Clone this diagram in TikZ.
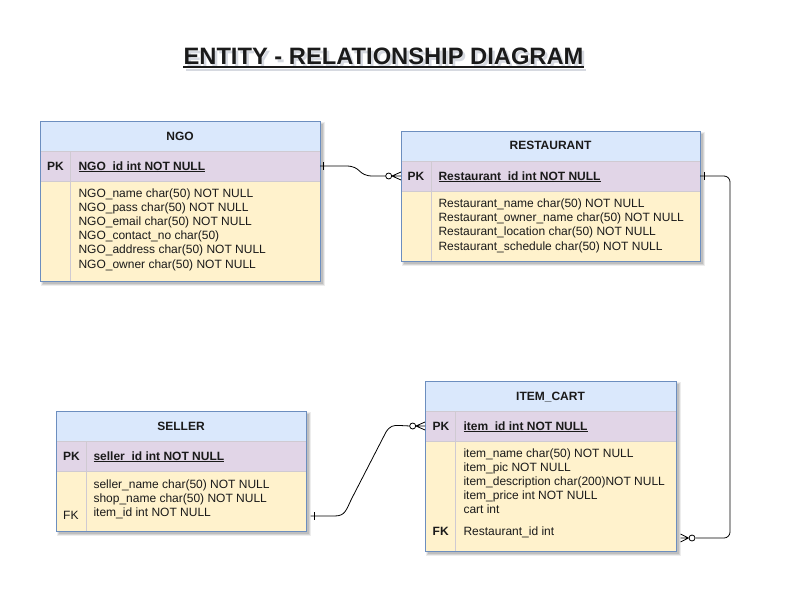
\documentclass[tikz,border=0pt]{standalone}
\usepackage{fontspec}
\setmainfont{Liberation Sans}
\usetikzlibrary{calc}
\definecolor{hdr}{HTML}{DAE8FC}
\definecolor{pkc}{HTML}{E1D5E7}
\definecolor{bod}{HTML}{FFF2CC}
\definecolor{edgec}{HTML}{6C8EBF}
\definecolor{sepc}{HTML}{CFCAD2}
\definecolor{txtc}{HTML}{1A1A1A}
\definecolor{shadc}{HTML}{8A93A8}
\newcommand\ulbox[1]{\setbox0\hbox{#1}\rlap{\rule[-1.7pt]{\wd0}{0.8pt}}\box0}
\newcommand\ertable[7]{%
  \fill[black,opacity=.07] (#2+1,#3+1) rectangle (#4+5,#5+5);
  \fill[black,opacity=.10] (#2+2,#3+2) rectangle (#4+4,#5+4);
  \fill[black,opacity=.10] (#2+3,#3+3) rectangle (#4+3,#5+3);
  \fill[hdr] (#2,#3) rectangle (#4,#3+30);
  \node[pkrow, minimum width={(#4-#2)*1pt}, anchor=north west] (#1pk) at (#2,#3+30) {};
  \fill[bod] (#2,#3+60) rectangle (#4,#5);
  \draw[sepline] (#2,#3+30) -- (#4,#3+30) (#2,#3+60) -- (#4,#3+60) (#2+30,#3+30) -- (#2+30,#5);
  \node[tablebox, minimum width={(#4-#2)*1pt}, minimum height={(#5-#3)*1pt}, anchor=north west] (#1) at (#2,#3) {};
  \node[hdrtext, anchor=base] (#1title) at ({(#2+#4)/2},#7) {#6};
}
\tikzset{
  pkrow/.style={fill=pkc, minimum height=30pt, inner sep=0pt, outer sep=0pt},
  tablebox/.style={draw=edgec, line width=0.8pt, inner sep=0pt, outer sep=0pt},
  sepline/.style={draw=sepc, line width=0.8pt},
  hdrtext/.style={font=\fontsize{12}{14}\selectfont\bfseries, text=txtc, inner sep=0pt},
  txt/.style={font=\fontsize{12}{14}\selectfont, text=txtc, inner sep=0pt, anchor=base west},
  btxt/.style={font=\fontsize{12}{14}\selectfont\bfseries, text=txtc, inner sep=0pt, anchor=base west},
  titletxt/.style={font=\fontsize{23.7}{26}\selectfont\bfseries, inner sep=0pt, anchor=base},
  conn/.style={draw=black, line width=0.8pt},
  ring/.style={draw=black, line width=0.8pt, fill=white},
}
\begin{document}
\begin{tikzpicture}[x=1pt,y=-1pt]
\useasboundingbox[fill=white] (0,0) rectangle (786,600);
% title with soft shadow
\node[titletxt, text=shadc, opacity=.35] (titleshadow) at (386,67) {ENTITY - RELATIONSHIP DIAGRAM};
\fill[shadc, opacity=.35] ($(titleshadow.base west)+(0,2)$) rectangle ($(titleshadow.base east)+(0,4.2)$);
\node[titletxt, text=txtc] (title) at (383.5,64) {ENTITY - RELATIONSHIP DIAGRAM};
\draw[txtc, line width=2pt] ($(title.base west)+(0,2.8)$) -- ($(title.base east)+(0,2.8)$);

% NGO
\ertable{ngo}{40}{121}{320}{281}{NGO}{140}
\node[btxt] (ngopkl) at (47,170) {PK};
\node[btxt] (ngopkt) at (78.3,170) {\ulbox{NGO\_id int NOT NULL}};
\foreach \t [count=\i from 0] in {NGO\_name char(50) NOT NULL,NGO\_pass char(50) NOT NULL,NGO\_email char(50) NOT NULL,NGO\_contact\_no char(50),NGO\_address char(50) NOT NULL,NGO\_owner char(50) NOT NULL}{
  \node[txt] (ngoa\i) at (78.3,197.5+14.1*\i) {\t};
}

% RESTAURANT
\ertable{rest}{401}{131}{700}{261}{RESTAURANT}{149.5}
\node[btxt] (restpkl) at (407.5,180) {PK};
\node[btxt] (restpkt) at (438.3,180) {\ulbox{Restaurant\_id int NOT NULL}};
\foreach \t [count=\i from 0] in {Restaurant\_name char(50) NOT NULL,Restaurant\_owner\_name char(50) NOT NULL,Restaurant\_location char(50) NOT NULL,Restaurant\_schedule char(50) NOT NULL}{
  \node[txt] (resta\i) at (438.3,207.5+14.2*\i) {\t};
}

% SELLER
\ertable{seller}{56}{411}{306}{531}{SELLER}{430}
\node[btxt] (sellerpkl) at (63,460.5) {PK};
\node[btxt] (sellerpkt) at (93.3,460.5) {\ulbox{seller\_id int NOT NULL}};
\foreach \t [count=\i from 0] in {seller\_name char(50) NOT NULL,shop\_name char(50) NOT NULL,item\_id int NOT NULL}{
  \node[txt] (sellera\i) at (93.3,488+14.2*\i) {\t};
}
\node[txt] (sellerfk) at (63,519.5) {FK};

% ITEM_CART
\ertable{cart}{425}{381}{676}{551}{ITEM\_CART}{400}
\node[btxt] (cartpkl) at (432.5,430) {PK};
\node[btxt] (cartpkt) at (463.3,430) {\ulbox{item\_id int NOT NULL}};
\foreach \t [count=\i from 0] in {item\_name char(50) NOT NULL,item\_pic NOT NULL,item\_description char(200)NOT NULL,item\_price int NOT NULL,cart int}{
  \node[txt] (carta\i) at (463.3,457.7+13.9*\i) {\t};
}
\node[btxt] (cartfkl) at (432.5,535.5) {FK};
\node[txt] (cartfkt) at (463.3,535.5) {Restaurant\_id int};

% connector NGO -> RESTAURANT
\draw[conn] (ngopk.east) -- ++(26,0) .. controls ++(16,0) and ($(restpk.west)+(-44,0)$) .. ($(restpk.west)+(-28,0)$) -- ($(restpk.west)+(-15,0)$);
\draw[conn] ($(ngopk.east)+(3,-4)$) -- ++(0,8);
\draw[conn] ($(restpk.west)+(-9,0)$) -- ($(restpk.west)+(0,-4)$) ($(restpk.west)+(-9,0)$) -- (restpk.west) ($(restpk.west)+(-9,0)$) -- ($(restpk.west)+(0,4)$);
\draw[ring] ($(restpk.west)+(-12.3,0)$) circle (3);

% connector RESTAURANT -> ITEM_CART
\coordinate (cartend) at (680.5,538);
\draw[conn, rounded corners=6pt] (restpk.east) -- ($(restpk.east)+(30,0)$) |- ($(cartend)+(15,0)$);
\draw[conn] ($(restpk.east)+(4,-4)$) -- ++(0,8);
\draw[conn] ($(cartend)+(8,0)$) -- ($(cartend)+(0,-4)$) ($(cartend)+(8,0)$) -- (cartend) ($(cartend)+(8,0)$) -- ($(cartend)+(0,4)$);
\draw[ring] ($(cartend)+(11.5,0)$) circle (3);

% connector SELLER -> ITEM_CART
\coordinate (sellerend) at (310.5,516);
\draw[conn] (sellerend) -- ++(24,0) .. controls ++(11,0) and (346,510) .. (352,498) -- (386,432) .. controls (390,426) and (393,425) .. (400,425.5) -- ($(cartpk.west)+(-15,0)$);
\draw[conn] ($(sellerend)+(3.5,-4)$) -- ++(0,8);
\draw[conn] ($(cartpk.west)+(-9,0)$) -- ($(cartpk.west)+(0,-4)$) ($(cartpk.west)+(-9,0)$) -- (cartpk.west) ($(cartpk.west)+(-9,0)$) -- ($(cartpk.west)+(0,4)$);
\draw[ring] ($(cartpk.west)+(-12.3,0)$) circle (3);
\end{tikzpicture}
\end{document}
